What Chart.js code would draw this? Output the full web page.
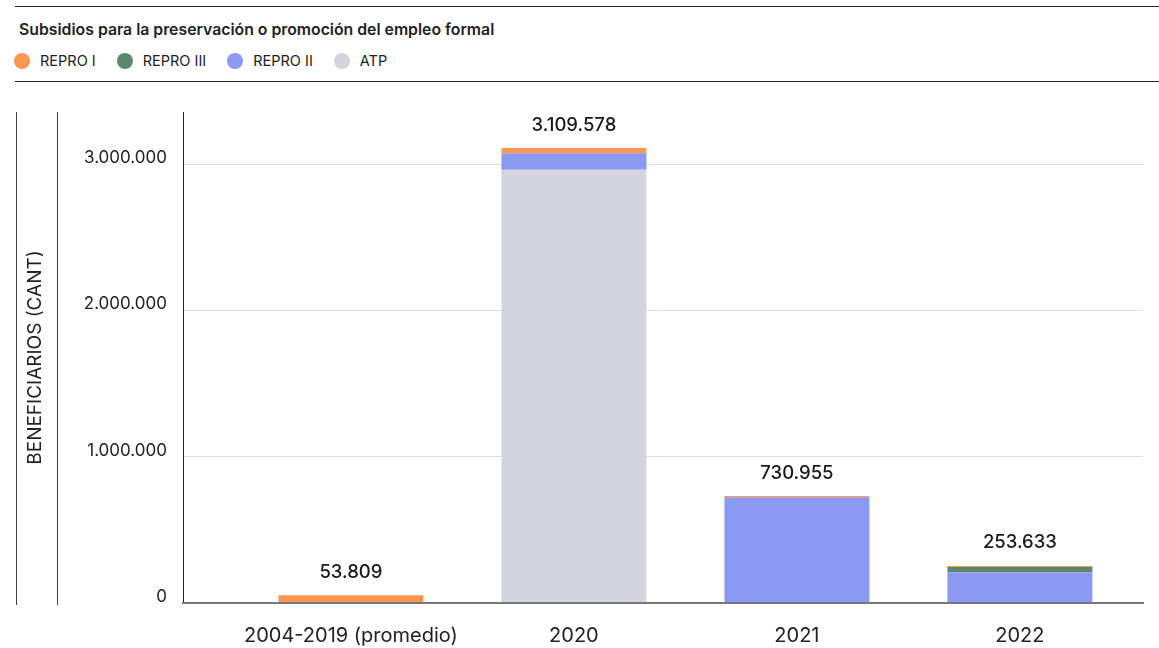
<!DOCTYPE html>
<html>
<head>
<meta charset="utf-8">
<script src="https://cdn.jsdelivr.net/npm/chart.js@4.4.0/dist/chart.umd.min.js"></script>
<style>
  body { margin: 0; width: 1159px; height: 648px; background: #fff; font-family: Inter, 'Noto Sans', sans-serif; color: #222; position: relative; overflow: hidden; }
  .rule { position: absolute; left: 15px; right: 0; border-top: 1px solid #222; }
  #title { position: absolute; left: 19px; top: 21px; font-size: 15.8px; font-weight: 600; line-height: 18px; }
  #legend { position: absolute; left: 14px; top: 52px; display: flex; align-items: center; font-size: 14.5px; line-height: 18px; }
  #legend span.item { display: flex; align-items: center; margin-right: 21px; }
  #legend span.dot { width: 16px; height: 16px; border-radius: 50%; margin-right: 10px; display: inline-block; }
  #wrap { position: absolute; left: 0; top: 82px; width: 1159px; height: 566px; }
</style>
</head>
<body>
<div class="rule" style="top:6px"></div>
<div id="title">Subsidios para la preservación o promoción del empleo formal</div>
<div id="legend"></div>
<div class="rule" style="top:81px"></div>
<div id="wrap"><canvas id="subsidiosChart"></canvas></div>
<script>
const categories = ['2004-2019 (promedio)', '2020', '2021', '2022'];
const reproI = [53809, 35000, 8000, 7000];
const reproIII = [0, 0, 0, 36000];
const reproII = [0, 113000, 722955, 210633];
const atp = [0, 2961578, 0, 0];
const yTicks = [0, 1000000, 2000000, 3000000];

const totals = categories.map((c, i) => reproI[i] + reproIII[i] + reproII[i] + atp[i]);

function fmt(v) {
    return String(v).replace(/\B(?=(\d{3})+(?!\d))/g, '.');
}

function points(values) {
    return values.map((v, i) => ({ x: i, y: v }));
}

// stacked bottom to top: ATP, REPRO II, REPRO III, REPRO I
const datasets = [
    { label: 'ATP', data: points(atp), backgroundColor: '#d4d4e0' },
    { label: 'REPRO II', data: points(reproII), backgroundColor: '#8c99f3' },
    { label: 'REPRO III', data: points(reproIII), backgroundColor: '#5b876d' },
    { label: 'REPRO I', data: points(reproI), backgroundColor: '#fe9650' }
];

// legend shows top of the stack first
const legendEl = document.getElementById('legend');
datasets.slice().reverse().forEach(ds => {
    const item = document.createElement('span');
    item.className = 'item';
    item.innerHTML = '<span class="dot" style="background:' + ds.backgroundColor + '"></span>' + ds.label;
    legendEl.appendChild(item);
});

const decoPlugin = {
    id: 'deco',
    afterDatasetsDraw(chart) {
        const { ctx, chartArea, scales: { x, y } } = chart;
        ctx.save();
        ctx.font = '500 18.5px Inter';
        ctx.fillStyle = '#1a1a1a';
        ctx.textAlign = 'center';
        ctx.textBaseline = 'middle';
        totals.forEach((t, i) => {
            ctx.fillText(fmt(t), x.getPixelForValue(i), y.getPixelForValue(t) - 23);
        });
        // side rules around the axis title
        ctx.strokeStyle = '#444';
        ctx.lineWidth = 1;
        [16.5, 57.5].forEach(px => {
            ctx.beginPath();
            ctx.moveTo(px, chartArea.top);
            ctx.lineTo(px, chartArea.bottom + 2);
            ctx.stroke();
        });
        ctx.restore();
    }
};

const ctx = document.getElementById('subsidiosChart').getContext('2d');
new Chart(ctx, {
    type: 'bar',
    data: { datasets: datasets },
    plugins: [decoPlugin],
    options: {
        responsive: true,
        maintainAspectRatio: false,
        animation: false,
        events: [],
        layout: { padding: { top: 30, right: 16, bottom: 0, left: 0 } },
        datasets: {
            bar: { categoryPercentage: 1, barPercentage: 0.65 }
        },
        plugins: {
            legend: { display: false },
            tooltip: { enabled: false }
        },
        scales: {
            x: {
                type: 'linear',
                stacked: true,
                offset: false,
                min: -0.753,
                max: 3.552,
                afterBuildTicks: scale => {
                    scale.ticks = categories.map((c, i) => ({ value: i }));
                },
                afterFit: scale => {
                    scale.height = 45;
                },
                ticks: {
                    callback: v => categories[v],
                    font: { family: 'Inter', size: 20 },
                    color: '#222',
                    padding: 21,
                    maxRotation: 0,
                    autoSkip: false
                },
                grid: { display: false, drawTicks: false },
                border: { display: true, color: '#777', width: 2, z: 1 }
            },
            y: {
                stacked: true,
                min: 0,
                max: 3356000,
                afterBuildTicks: scale => {
                    scale.ticks = yTicks.map(v => ({ value: v }));
                },
                afterFit: scale => {
                    scale.width = 183;
                },
                ticks: {
                    callback: v => fmt(v),
                    font: { family: 'Inter', size: 17 },
                    color: '#222',
                    padding: 16,
                    labelOffset: -6
                },
                grid: { color: '#dedede', drawTicks: false },
                border: { display: true, color: '#222', width: 1 },
                title: {
                    display: true,
                    text: 'BENEFICIARIOS (CANT)',
                    font: { family: 'Inter', size: 19 },
                    color: '#222',
                    padding: { top: 23.6, bottom: 0 }
                }
            }
        }
    }
});
</script>
</body>
</html>
